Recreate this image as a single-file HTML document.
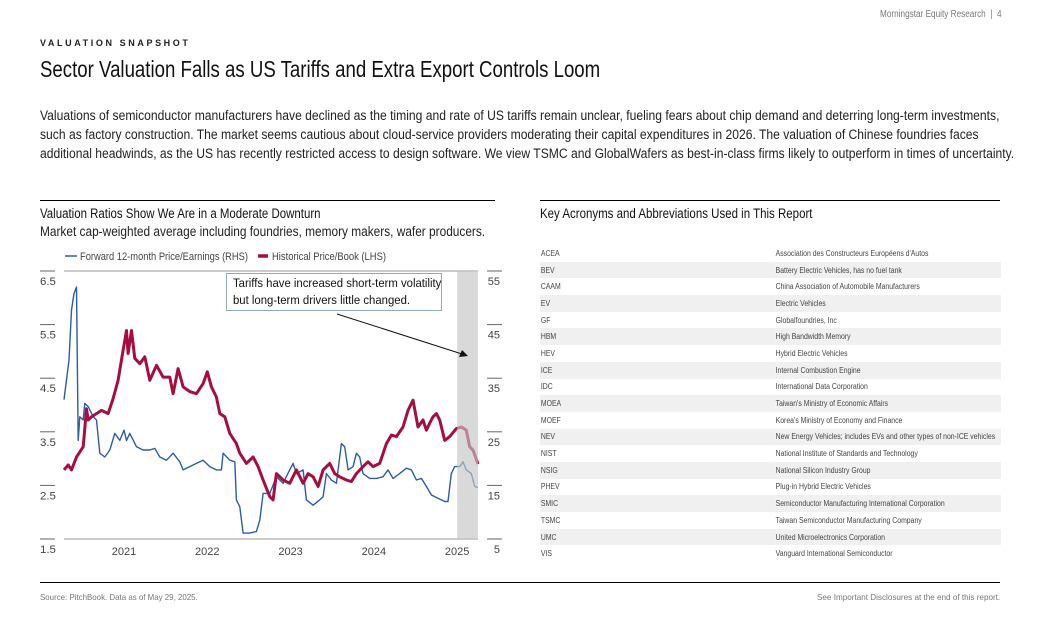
<!DOCTYPE html>
<html><head><meta charset="utf-8">
<style>
body{margin:0;width:1040px;height:640px;background:#fff;font-family:"Liberation Sans",sans-serif;color:#222;position:relative;overflow:hidden}
.a{position:absolute;white-space:nowrap;transform-origin:0 0}
table{border-collapse:collapse}
</style></head><body>
<div class="a" style="left:40px;top:38px;font-weight:bold;font-size:9px;letter-spacing:2.6px">VALUATION SNAPSHOT</div>
<div class="a" style="left:880px;top:9px;font-size:10px;color:#777;transform:scaleX(0.82)">Morningstar Equity Research &nbsp;|&nbsp; 4</div>
<div class="a" style="left:40px;top:56px;font-size:23px;color:#111;transform:scaleX(0.81)">Sector Valuation Falls as US Tariffs and Extra Export Controls Loom</div>
<div class="a" style="left:40px;top:106px;font-size:13.4px;line-height:19px;color:#222;transform:scaleX(0.905)">Valuations of semiconductor manufacturers have declined as the timing and rate of US tariffs remain unclear, fueling fears about chip demand and deterring long-term investments,<br>such as factory construction. The market seems cautious about cloud-service providers moderating their capital expenditures in 2026. The valuation of Chinese foundries faces<br>additional headwinds, as the US has recently restricted access to design software. We view TSMC and GlobalWafers as best-in-class firms likely to outperform in times of uncertainty.</div>

<div class="a" style="left:40px;top:200px;width:455px;height:1px;background:#000"></div>
<div class="a" style="left:40px;top:206px;font-size:13.4px;color:#111;transform:scaleX(0.856)">Valuation Ratios Show We Are in a Moderate Downturn</div>
<div class="a" style="left:40px;top:224px;font-size:13.4px;color:#222;transform:scaleX(0.886)">Market cap-weighted average including foundries, memory makers, wafer producers.</div>

<div class="a" style="left:540px;top:200px;width:460px;height:1px;background:#000"></div>
<div class="a" style="left:540px;top:206px;font-size:13.4px;color:#111;transform:scaleX(0.858)">Key Acronyms and Abbreviations Used in This Report</div>
<div class="a" style="left:540px;top:245px;width:536px;transform:scaleX(0.86)">
<table id="tbl" style="width:536px;font-size:8px;color:#444"></table></div>

<svg class="a" style="left:0;top:0" width="1040" height="640">
<g id="chart"></g>
</svg>

<div class="a" style="left:226px;top:273px;width:214px;height:36px;border:1px solid #8ea9c1;background:#fff;"></div>
<div class="a" style="left:233px;top:275px;font-size:12.2px;line-height:17px;color:#111;transform:scaleX(0.93)">Tariffs have increased short-term volatility<br>but long-term drivers little changed.</div>

<div class="a" style="left:40px;top:582px;width:960px;height:1px;background:#000"></div>
<div class="a" style="left:40px;top:592px;font-size:8.5px;color:#777;transform:scaleX(0.93)">Source: PitchBook. Data as of May 29, 2025.</div>
<div class="a" style="left:817px;top:592px;font-size:8.5px;color:#777;transform:scaleX(0.955)">See Important Disclosures at the end of this report.</div>

<script>
const acronyms=["ACEA","BEV","CAAM","EV","GF","HBM","HEV","ICE","IDC","MOEA","MOEF","NEV","NIST","NSIG","PHEV","SMIC","TSMC","UMC","VIS"];
const meanings=["Association des Constructeurs Européens d'Autos","Battery Electric Vehicles, has no fuel tank","China Association of Automobile Manufacturers","Electric Vehicles","Globalfoundries, Inc","High Bandwidth Memory","Hybrid Electric Vehicles","Internal Combustion Engine","International Data Corporation","Taiwan's Ministry of Economic Affairs","Korea's Ministry of Economy and Finance","New Energy Vehicles; includes EVs and other types of non-ICE vehicles","National Institute of Standards and Technology","National Silicon Industry Group","Plug-in Hybrid Electric Vehicles","Semiconductor Manufacturing International Corporation","Taiwan Semiconductor Manufacturing Company","United Microelectronics Corporation","Vanguard International Semiconductor"];
const tbl=document.getElementById('tbl');
acronyms.forEach((a,i)=>{const tr=document.createElement('tr');


tr.style.height='16.7px';tr.style.background=i%2?'#f0f0f0':'#fff';
tr.innerHTML='<td style="padding:0 0 0 1px;width:273px">'+a+'</td><td style="padding:0">'+meanings[i]+'</td>';tbl.appendChild(tr);});

const pbDates=[2020.28,2020.33,2020.37,2020.43,2020.51,2020.55,2020.57,2020.61,2020.67,2020.73,2020.81,2020.87,2020.93,2020.99,2021.03,2021.05,2021.09,2021.13,2021.19,2021.25,2021.31,2021.39,2021.47,2021.55,2021.59,2021.65,2021.71,2021.79,2021.87,2021.95,2022.00,2022.05,2022.11,2022.15,2022.21,2022.27,2022.35,2022.39,2022.47,2022.55,2022.61,2022.67,2022.75,2022.79,2022.83,2022.91,2022.99,2023.07,2023.15,2023.21,2023.27,2023.33,2023.39,2023.47,2023.53,2023.59,2023.67,2023.73,2023.79,2023.87,2023.93,2023.99,2024.07,2024.15,2024.21,2024.27,2024.35,2024.41,2024.47,2024.53,2024.59,2024.63,2024.67,2024.71,2024.75,2024.79,2024.85,2024.91,2024.99,2025.05,2025.11,2025.15,2025.19,2025.25];
const pbValues=[2.79,2.88,2.79,3.03,3.22,3.93,3.72,3.78,3.84,3.90,3.84,4.12,4.46,5.02,5.39,4.96,5.39,4.87,4.77,4.90,4.46,4.74,4.52,4.52,4.21,4.68,4.34,4.25,4.21,4.40,4.62,4.34,4.15,3.84,3.78,3.47,3.28,3.10,2.91,3.03,2.85,2.60,2.29,2.23,2.72,2.60,2.54,2.79,2.54,2.72,2.66,2.48,2.79,2.91,2.72,2.66,2.60,2.57,2.72,2.85,2.94,2.85,2.91,3.28,3.44,3.41,3.59,3.90,4.09,3.59,3.72,3.53,3.66,3.78,3.84,3.72,3.34,3.41,3.56,3.59,3.53,3.22,3.16,2.90];
const peDates=[2020.28,2020.34,2020.37,2020.40,2020.43,2020.45,2020.47,2020.51,2020.53,2020.57,2020.63,2020.67,2020.71,2020.77,2020.83,2020.89,2020.95,2021.00,2021.03,2021.07,2021.15,2021.23,2021.31,2021.37,2021.43,2021.51,2021.59,2021.67,2021.71,2021.79,2021.87,2021.95,2022.03,2022.11,2022.17,2022.19,2022.27,2022.33,2022.35,2022.39,2022.43,2022.51,2022.59,2022.63,2022.67,2022.75,2022.83,2022.91,2022.99,2023.03,2023.07,2023.15,2023.19,2023.27,2023.35,2023.39,2023.43,2023.49,2023.55,2023.61,2023.65,2023.69,2023.75,2023.79,2023.83,2023.87,2023.95,2024.03,2024.11,2024.17,2024.23,2024.31,2024.39,2024.45,2024.51,2024.57,2024.63,2024.69,2024.77,2024.85,2024.89,2024.93,2024.97,2025.03,2025.07,2025.11,2025.17,2025.21,2025.25];
const peValues=[31.0,38.4,47.7,50.8,52.0,23.4,27.8,27.2,30.3,29.7,27.8,27.2,21.0,20.3,21.6,24.7,23.4,25.3,23.4,24.7,22.2,21.6,21.6,21.9,20.3,19.7,21.0,19.4,17.9,18.5,19.1,19.7,18.5,17.9,17.9,21.0,19.7,19.4,12.3,11.0,6.1,6.1,6.4,8.5,13.5,13.5,16.6,15.4,17.9,19.1,17.2,17.9,12.3,11.3,12.3,12.9,17.2,16.0,15.4,22.8,22.2,17.9,18.5,21.0,20.3,17.2,16.3,16.3,16.6,17.9,16.3,17.2,18.2,17.9,16.0,16.3,14.8,13.2,12.6,12.0,12.0,17.2,18.5,18.5,19.4,17.9,17.2,14.8,14.6];
const leftTicks=["6.5","5.5","4.5","3.5","2.5","1.5"];
const rightTicks=["55","45","35","25","15","5"];
const yearLabels=["2021","2022","2023","2024","2025"];
const shadeStart=2025.0;

const X0=64,X1=478,T=271,B=539;
const d0=2020.28,d1=2025.25;
const x=d=>X0+(d-d0)/(d1-d0)*(X1-X0);
const yL=v=>B-(v-1.5)/5*(B-T);
const yR=v=>B-(v-5)/50*(B-T);
const NS='http://www.w3.org/2000/svg';
const g=document.getElementById('chart');
const FF='Liberation Sans, sans-serif';
function mk(tag,at){const e=document.createElementNS(NS,tag);for(const k in at)e.setAttribute(k,at[k]);g.appendChild(e);return e;}

let e=mk('line',{x1:X0,x2:X1,y1:T,y2:T,stroke:'#999','stroke-width':1});


e=mk('line',{x1:X0,x2:X1,y1:B,y2:B,stroke:'#999','stroke-width':1});



leftTicks.forEach(t=>{const v=parseFloat(t),yy=yL(v);
 let l=mk('line',{x1:40,x2:55,y1:yy,y2:yy,stroke:'#666','stroke-width':1});
 
 
 let tx=mk('text',{x:40,y:yy+14,'font-size':11,fill:'#444','font-family':FF,textLength:t.length*5.3,lengthAdjust:'spacingAndGlyphs'});tx.textContent=t;
 
 });
rightTicks.forEach(t=>{const v=parseFloat(t),yy=yR(v);
 let l=mk('line',{x1:487,x2:502,y1:yy,y2:yy,stroke:'#666','stroke-width':1});
 
 
 let tx=mk('text',{x:500,y:yy+14,'text-anchor':'end','font-size':11,fill:'#444','font-family':FF});tx.textContent=t;
 
 });
yearLabels.forEach(t=>{let tx=mk('text',{x:x(parseFloat(t)),y:555,'text-anchor':'middle','font-size':11,fill:'#444','font-family':FF});tx.textContent=t;
 
 });

const pePts=peDates.map((d,i)=>x(d).toFixed(1)+','+yR(peValues[i]).toFixed(1)).join(' ');
e=mk('polyline',{points:pePts,fill:'none',stroke:'#2a5caa','stroke-width':1.4,'stroke-linejoin':'round'});


const pbPts=pbDates.map((d,i)=>x(d).toFixed(1)+','+yL(pbValues[i]).toFixed(1)).join(' ');
e=mk('polyline',{points:pbPts,fill:'none',stroke:'#a50e3e','stroke-width':3,'stroke-linejoin':'round'});



e=mk('rect',{x:x(shadeStart),y:T,width:X1-x(shadeStart),height:B-T,fill:'#c4c4c4','fill-opacity':0.65});



e=mk('line',{x1:65,x2:77,y1:256,y2:256,stroke:'#2a5caa','stroke-width':1.5});


e=mk('text',{x:80,y:260,'font-size':11,fill:'#444','font-family':FF,textLength:168,lengthAdjust:'spacingAndGlyphs'});e.textContent='Forward 12-month Price/Earnings (RHS)';


e=mk('line',{x1:258,x2:268,y1:256,y2:256,stroke:'#a50e3e','stroke-width':3.5});


e=mk('text',{x:272,y:260,'font-size':11,fill:'#444','font-family':FF,textLength:114,lengthAdjust:'spacingAndGlyphs'});e.textContent='Historical Price/Book (LHS)';



e=mk('line',{x1:337,y1:314,x2:462,y2:354,stroke:'#111','stroke-width':1});


e=mk('polygon',{points:'468,356 459,357 462,350',fill:'#111'});


</script>
</body></html>
